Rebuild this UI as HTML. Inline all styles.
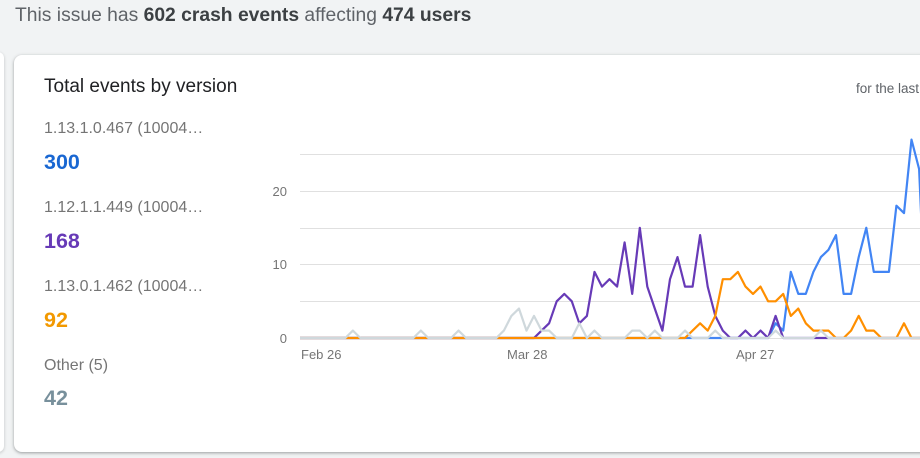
<!DOCTYPE html>
<html><head><meta charset="utf-8"><style>
html,body{margin:0;padding:0;}
body{width:920px;height:458px;background:#f1f3f4;font-family:"Liberation Sans",Arial,sans-serif;position:relative;overflow:hidden;}
.hdr{position:absolute;left:15px;top:5px;font-size:19.3px;color:#5f6368;}
.hdr b{color:#3c4043;}
.left{position:absolute;left:-10px;top:52px;width:14px;height:400px;background:#fff;border-radius:0 6px 6px 0;box-shadow:0 1px 3px rgba(0,0,0,.2);}
.card{position:absolute;left:14px;top:55px;width:930px;height:397px;background:#fff;border-radius:8px;box-shadow:0 1px 2px rgba(60,64,67,.3),0 1px 3px 1px rgba(60,64,67,.15);}
.title{position:absolute;left:30px;top:21px;font-size:19px;color:#202124;}
.for{position:absolute;left:842px;top:26px;font-size:13.5px;color:#5f6368;}
.lab{position:absolute;left:30px;font-size:16px;color:#757575;}
.val{position:absolute;left:30px;font-size:21.5px;font-weight:bold;}
svg{position:absolute;left:0;top:0;}
</style></head><body>
<div class="hdr">This issue has <b>602 crash events</b> affecting <b>474 users</b></div>
<div class="left"></div>
<div class="card">
<div class="title">Total events by version</div>
<div class="for">for the last</div>
<div class="lab" style="top:65px">1.13.1.0.467 (10004…</div>
<div class="val" style="top:95px;color:#1967d2">300</div>
<div class="lab" style="top:144px">1.12.1.1.449 (10004…</div>
<div class="val" style="top:174px;color:#673ab7">168</div>
<div class="lab" style="top:223px">1.13.0.1.462 (10004…</div>
<div class="val" style="top:253px;color:#f29900">92</div>
<div class="lab" style="top:302px">Other (5)</div>
<div class="val" style="top:331px;color:#78909c">42</div>
</div>
<svg id="c" width="920" height="458" xmlns="http://www.w3.org/2000/svg" font-family="Liberation Sans, Arial, sans-serif">
<g stroke="#e0e0e0" stroke-width="1">
<line x1="300" x2="920" y1="154.5" y2="154.5"/>
<line x1="300" x2="920" y1="191.5" y2="191.5"/>
<line x1="300" x2="920" y1="228.5" y2="228.5"/>
<line x1="300" x2="920" y1="264.5" y2="264.5"/>
<line x1="300" x2="920" y1="301.5" y2="301.5"/>
<line x1="300" x2="920" y1="338.5" y2="338.5"/>
</g>
<g font-size="13" fill="#757575">
<text x="287" y="196" text-anchor="end">20</text>
<text x="287" y="269" text-anchor="end">10</text>
<text x="287" y="343" text-anchor="end">0</text>
<text x="301" y="359">Feb 26</text>
<text x="507" y="359">Mar 28</text>
<text x="736" y="359">Apr 27</text>
</g>
<g id="s" fill="none" stroke-width="2.2" stroke-linejoin="round"></g>
</svg>
<script>
function z(n){return Array(n).fill(0);}
var N=84;
function pad(a){while(a.length<N)a.push(0);return a;}
var purple=pad(z(31).concat([0,1,2,5,6,5,2,3,9,7,8,7,13,6,15,7,4,1,8,11,7,7,14,7,3,1,0,0,1,0,1,0,3,0,0,0,0,0,0,0,0]));
var orange=pad(z(51).concat([0,1,2,1,3,8,8,9,7,6,7,5,5,6,3,4,2,1,1,1,0,0,1,3,1,1,0,0,0,2,0,0]));
var blue=pad(z(63).concat([2,1,9,6,6,9,11,12,14,6,6,11,15,9,9,9,18,17,27,23]));
var grey=z(N);
var g={7:1,16:1,21:1,27:1,28:3,29:4,30:1,31:3,32:1,33:1,37:2,39:1,44:1,45:1,47:1,51:1,55:1,63:1,69:1};
for(var k in g)grey[k]=g[k];
function pts(a){return a.map(function(v,i){return (300+i*7.55).toFixed(1)+","+(338-v*7.35).toFixed(1)}).join(" ");}
var s=document.getElementById("s"),h="";
[[blue,"#4285f4"],[purple,"#673ab7"],[orange,"#ff8f00"],[grey,"#cfd8dc"]].forEach(function(p){
h+='<polyline stroke="'+p[1]+'" points="'+pts(p[0])+'"/>';});
s.innerHTML=h;
</script>
</body></html>
